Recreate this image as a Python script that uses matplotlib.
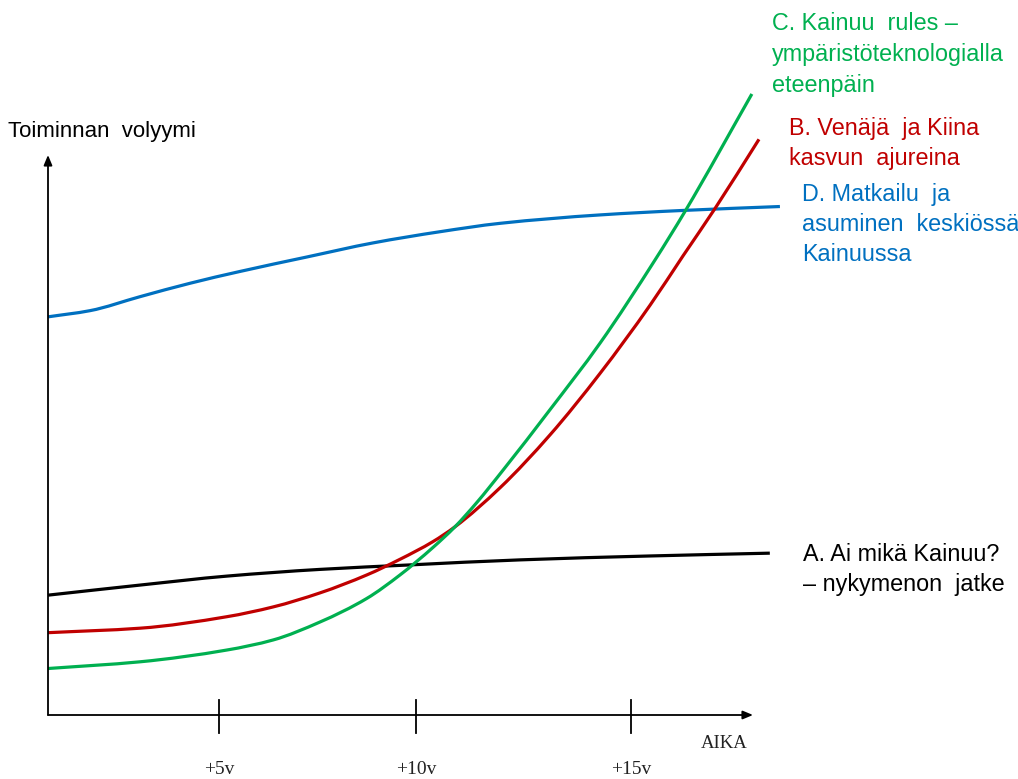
import numpy as np
import matplotlib
matplotlib.use("Agg")
import matplotlib.pyplot as plt
from matplotlib.path import Path
from matplotlib.patches import PathPatch

# ---- data (time in years-like units, volume in arbitrary units) ----
a_x = [0, 2.46, 4.78, 7.27, 9.68, 12.62, 16.10, 19.30]
a_y = [21.4, 23.2, 24.8, 26.0, 26.8, 27.7, 28.4, 28.9]

b_x = [0, 2.46, 4.78, 6.02, 7.27, 8.52, 9.41, 10.29, 10.88, 12.09, 13.42,
       14.76, 16.10, 16.98, 17.83, 19.01]
b_y = [14.7, 15.5, 17.55, 19.3, 21.8, 25.0, 27.8, 30.95, 33.6, 40.6, 50.0,
       61.0, 73.2, 82.0, 90.4, 102.8]

c_x = [0, 2.46, 4.78, 6.02, 7.27, 8.52, 9.41, 10.29, 10.88, 11.46, 12.17,
       13.42, 14.76, 16.23, 17.03, 18.82]
c_y = [8.3, 9.5, 11.6, 13.4, 16.6, 20.8, 25.0, 29.9, 33.6, 37.9, 43.75,
       54.5, 66.4, 81.25, 89.9, 110.9]

d_x = [0, 1.12, 2.46, 3.80, 5.13, 6.93, 8.69, 10.48, 12.09, 14.76, 16.98, 19.57]
d_y = [71.1, 72.2, 74.7, 77.1, 79.2, 81.8, 84.3, 86.3, 87.8, 89.3, 90.1, 90.8]

tick_pos = [4.57, 9.84, 15.59]
tick_labels = ["+5v", "+10v", "+15v"]

labels = {
    "A": "A. Ai mikä Kainuu?\n– nykymenon  jatke",
    "B": "B. Venäjä  ja Kiina\nkasvun  ajureina",
    "C": "C. Kainuu  rules –\nympäristöteknologialla\neteenpäin",
    "D": "D. Matkailu  ja\nasuminen  keskiössä\nKainuussa",
}
y_title = "Toiminnan  volyymi"
x_title = "AIKA"

GREEN = "#00B050"
RED = "#C00000"
BLUE = "#0070C0"
BLACK = "#000000"

# ---- layout ----
W, H = 1018, 779
X0, Y0 = 48, 715      # origin in pixels
KX, KY = 37.4, 5.6    # pixels per unit

def px(xp):
    return (xp - X0) / KX

def py(yp):
    return (Y0 - yp) / KY

fig = plt.figure(figsize=(W / 100, H / 100), dpi=100)
ax = fig.add_axes([0, 0, 1, 1])
ax.set_xlim(px(0), px(W))
ax.set_ylim(py(H), py(0))
ax.axis("off")

sans = ["Liberation Sans", "DejaVu Sans"]
serif = ["Liberation Serif", "DejaVu Serif"]


def smooth_curve(ax, xs, ys, **kw):
    """Draw a smooth monotone (Fritsch-Carlson) Hermite curve through the
    data points, expressed as a cubic Bezier path in data coordinates."""
    x = np.asarray(xs, float)
    y = np.asarray(ys, float)
    h = np.diff(x)
    d = np.diff(y) / h
    m = np.zeros_like(x)
    m[0], m[-1] = d[0], d[-1]
    for i in range(1, len(x) - 1):
        if d[i - 1] * d[i] <= 0:
            m[i] = 0.0
        else:
            w1 = 2 * h[i] + h[i - 1]
            w2 = h[i] + 2 * h[i - 1]
            m[i] = (w1 + w2) / (w1 / d[i - 1] + w2 / d[i])
    verts = [(x[0], y[0])]
    codes = [Path.MOVETO]
    for i in range(len(x) - 1):
        verts += [(x[i] + h[i] / 3, y[i] + m[i] * h[i] / 3),
                  (x[i + 1] - h[i] / 3, y[i + 1] - m[i + 1] * h[i] / 3),
                  (x[i + 1], y[i + 1])]
        codes += [Path.CURVE4] * 3
    ax.add_patch(PathPatch(Path(verts, codes), facecolor="none", **kw))


# axes with arrows
ax.annotate("", xy=(px(753), 0), xytext=(0, 0),
            arrowprops=dict(arrowstyle="-|>,head_length=0.6,head_width=0.25",
                            lw=1.3, color="black", shrinkA=0, shrinkB=0))
ax.annotate("", xy=(0, py(155)), xytext=(0, 0),
            arrowprops=dict(arrowstyle="-|>,head_length=0.6,head_width=0.25",
                            lw=1.3, color="black", shrinkA=0, shrinkB=0))

# ticks
for t, lab in zip(tick_pos, tick_labels):
    ax.plot([t, t], [py(700), py(733)], color="black", lw=1.3)
    ax.text(t, py(769), lab, ha="center", va="center", fontsize=14,
            family=serif, color="#222222")

ax.text(px(724), py(743), x_title, ha="center", va="center", fontsize=13.5,
        family=serif, color="#222222")
ax.text(px(8), py(132), y_title, ha="left", va="center", fontsize=16,
        family=sans, color="black")

# curves
lw = 2.3
smooth_curve(ax, d_x, d_y, edgecolor=BLUE, lw=lw, capstyle="butt")
smooth_curve(ax, a_x, a_y, edgecolor=BLACK, lw=lw, capstyle="butt")
smooth_curve(ax, b_x, b_y, edgecolor=RED, lw=lw, capstyle="butt")
smooth_curve(ax, c_x, c_y, edgecolor=GREEN, lw=lw, capstyle="butt")

# labels
fs = 16.8
ls = 1.38
ax.text(px(772), py(12), labels["C"], ha="left", va="top", fontsize=fs,
        family=sans, color=GREEN, linespacing=1.45)
ax.text(px(789), py(117), labels["B"], ha="left", va="top", fontsize=fs,
        family=sans, color=RED, linespacing=ls)
ax.text(px(802), py(183), labels["D"], ha="left", va="top", fontsize=fs,
        family=sans, color=BLUE, linespacing=ls)
ax.text(px(803), py(543), labels["A"], ha="left", va="top", fontsize=fs,
        family=sans, color=BLACK, linespacing=ls)

fig.savefig("out.png", dpi=100)
